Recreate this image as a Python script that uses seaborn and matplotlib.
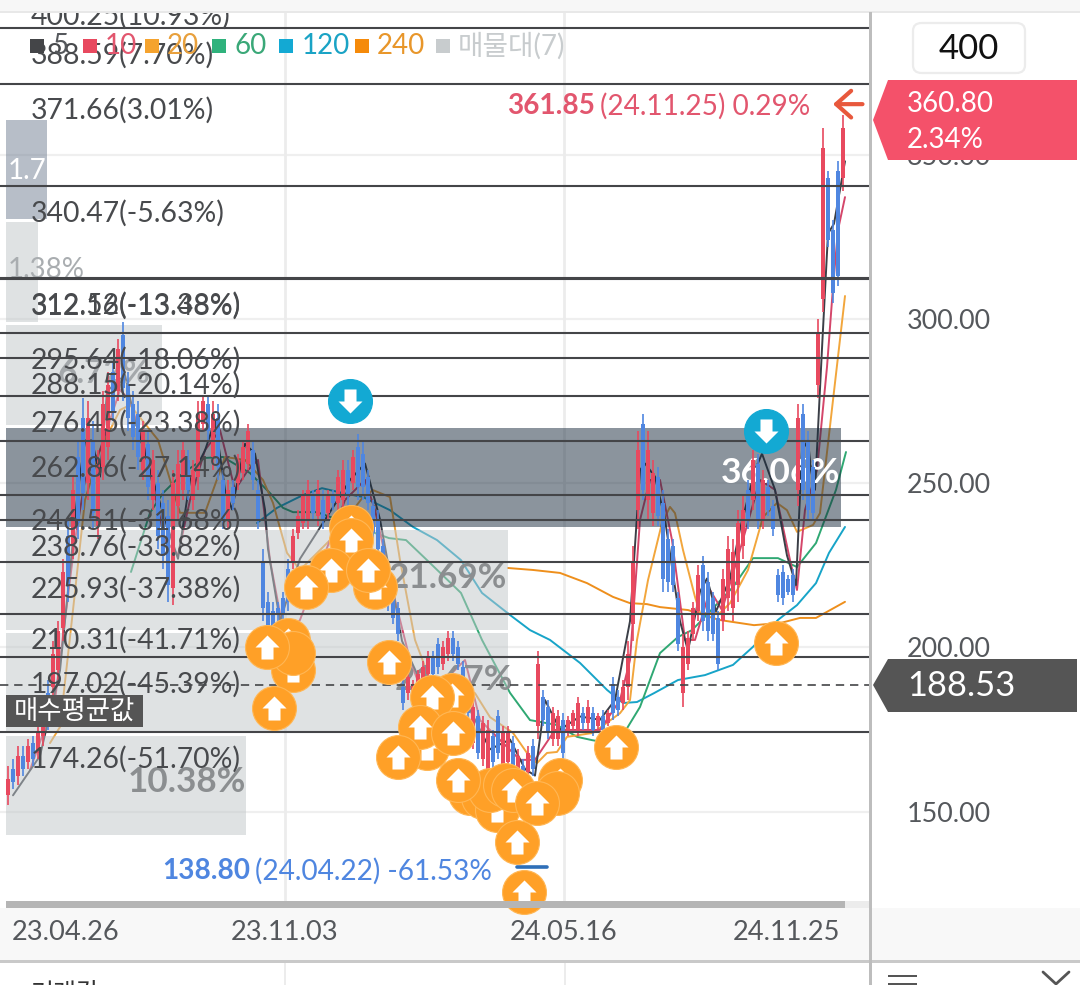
import numpy as np
import pandas as pd
import seaborn as sns
import matplotlib
matplotlib.use("Agg")
import matplotlib.pyplot as plt
from matplotlib.patches import Rectangle, Polygon, FancyBboxPatch
from matplotlib.path import Path

sns.set_theme(style="white")
plt.rcParams['font.family'] = ['Lato', 'Noto Sans CJK KR', 'DejaVu Sans']

# ---- candles -------------------------------------------------------------
highs = [164,166,170,170,172,173,176,184,190,202,208,227,239,252,263,276,275,269,260,278,284,287,294,299,284,278,275,269,266,260,254,248,245,254,260,263,260,257,275,277,277,275,274,254,251,251,259,263,268,263,251,230,217,214,214,217,227,236,242,248,251,248,251,248,248,248,254,257,257,260,265,263,254,245,242,233,224,217,214,190,193,190,193,196,199,199,203,202,205,205,202,196,187,184,181,179,178,175,181,176,176,173,169,166,170,172,199,187,184,182,181,180,179,181,185,182,184,182,180,181,181,191,187,190,202,231,266,271,266,257,255,248,236,233,217,204,205,214,225,228,223,217,211,224,234,233,242,246,251,260,259,254,251,245,224,225,222,224,274,274,266,257,300,358,345,330,348,362]
lows = [152,157,158,161,163,164,166,170,175,184,190,202,214,227,233,242,245,236,233,251,257,269,275,275,266,260,254,251,245,242,230,224,214,213,239,245,245,242,248,266,263,254,251,236,236,242,248,251,254,248,236,208,202,199,208,208,211,224,233,236,236,239,237,236,239,242,242,242,243,248,245,245,242,233,227,221,211,207,202,181,184,184,187,187,190,190,192,193,196,196,193,184,178,169,166,164,160,163,166,161,163,160,157,157,160,161,172,176,172,170,170,166,173,175,173,175,175,173,175,173,176,178,179,181,184,202,236,245,239,237,237,217,217,217,199,182,193,202,208,205,202,202,193,205,211,208,214,227,236,242,236,236,240,234,214,213,216,214,243,245,239,239,276,302,322,305,310,339]
opens = [155,163,161,167,165,171,168,173,186,188,193,206,234,231,258,270,250,263,237,255,261,284,278,295,280,274,271,254,262,245,250,244,240,218,243,248,257,245,252,268,274,258,270,251,239,249,250,253,256,260,248,226,214,211,212,215,224,226,235,238,239,246,240,245,241,246,244,245,254,250,261,259,252,243,239,231,221,215,212,188,186,185,188,189,192,197,201,195,198,203,200,194,185,171,179,166,163,173,179,163,165,171,159,164,162,170,176,185,182,172,172,178,174,176,175,180,177,180,176,179,177,189,185,183,188,207,242,268,245,241,252,244,233,231,215,186,195,204,211,225,220,215,209,208,215,212,219,231,248,245,256,239,249,243,222,223,221,222,248,271,263,255,280,306,343,327,345,343]
closes = [160,159,167,163,170,166,174,181,178,198,205,223,219,248,238,247,270,241,256,274,280,272,291,279,270,264,258,266,249,257,234,228,219,250,256,260,248,254,271,275,266,271,255,239,248,244,257,261,266,251,239,212,205,202,210,210,214,234,240,246,248,241,248,239,246,244,252,254,246,258,249,249,244,235,230,223,214,209,204,183,191,189,192,194,197,192,194,200,203,198,195,186,180,182,168,177,175,165,168,174,174,162,167,159,168,163,195,178,174,180,179,168,178,180,183,177,182,175,179,175,180,180,181,188,198,226,260,248,260,253,240,221,220,219,201,200,203,212,222,208,205,204,195,221,230,229,238,242,239,257,239,251,242,236,216,215,217,216,270,248,242,241,296,352,324,308,313,358]

# ---- moving averages ----------------------------------------------------
ma5_x = [1,6.4,10.4,14,15.4,16.8,18.4,19.8,23.4,25.4,28.4,31.4,34,36.4,39.4,41.4,43.4,44.8,47.4,49.4,51.4,52,54.4,58.4,66.4,68.4,71.4,74.4,77.4,78.8,82.4,87.4,92.4,96.4,100.4,103.4,105.4,107.4,110.4,114.4,118.4,121.4,124.4,126.4,127.4,129.4,131.4,134.4,136,138.4,139.8,141.6,144.4,146.4,149.4,150.8,153.4,155.8,157.6,158.8,160,160.6,161.4,162.8,164,165.2,167.4]
ma5_y = [155,167,193,248,263,263,252,278,283,269,254,239,227,251,260,269,248,242,262,259,242,230,208,227,246,251,256,239,214,202,190,190,181,169,172,163,161,184,175,179,178,184,208,254,256,252,239,208,199,217,221,211,221,236,254,259,248,228,219,260,263,254,248,291,326,329,348]
ma10_x = [4.4,9.4,11.4,13.4,15.4,18.4,22.4,24.4,27.4,31.4,34,36.4,39.4,42.4,45.4,48,50,52.4,55.4,58.4,67.4,71.4,73.4,77.4,80.4,83.4,91.4,94.4,102.4,105.4,109.4,118.4,122.4,124.4,126.4,128.4,130.4,132.8,135.4,137.4,140.4,142.8,146.4,150.4,153.4,156.4,157.8,159.4,161.8,163.8,165,166,167.4]
ma10_y = [162.7,184,208.4,232.7,251,260.1,278.4,275.3,260.1,232.7,228.2,244.9,260.1,266.2,248,254,257.1,226.6,202.3,208.4,244.9,251,241.9,214.5,196.2,184,196.2,177.9,165.8,165.8,174.9,174.9,184,196.2,238.8,251,251,232.7,202.3,202.3,217.5,211.4,229.7,251,248,226.6,217.5,241.9,254,285.4,309.7,327.1,337.1]
ma20_x = [8.4,10.4,13,15.4,18.4,22.4,24.4,30,34.4,39.4,43.4,47.4,51,53,55.8,58.4,64.4,71,73,76.4,78.4,81.4,84.4,93.4,96.4,101,103.8,105.8,107.8,109.8,111.8,117,122.4,124.4,125.8,128,130.8,132.4,133.4,135,137.4,138.4,142.4,144.4,148,151,153.8,155.8,157.8,161,162.4,165,167.4]
ma20_y = [170.9,175.8,211.4,244.9,260.1,272.3,273.8,263.2,241,241,258,257.1,251,244,228.8,223.6,232.7,245.8,247.9,245.8,226.6,202.3,190.1,186.1,178.8,174,167.9,164.8,167.9,168.2,172.8,174,180,184,202.3,220.5,237.9,242.8,240.9,229.7,215.4,210.5,210.5,213.5,223.6,239.7,244,241.8,235.2,237.3,240.9,275.3,307]
ma60_x = [24.6,28.4,31,35,39.4,43,48.4,52.4,55,57,61.8,76.2,79.6,83.8,90.6,94.8,100.4,104.4,109.8,113.8,116.8,122.4,123.6,126.4,130.4,134,136.8,138.8,145,149,154,157.8,161.6,165.6,167.6]
ma60_y = [223,241,247,253.1,257.7,258,253.1,247,242.5,241.2,241.2,233.3,232.7,226.6,216.6,202.3,186.2,177.9,176.4,172.8,171.8,170.3,174.9,181.9,198.3,203.2,205.3,208.4,218.4,227.2,227.2,224.5,231.8,248,259.5]
ma120_x = [49.8,53.8,59,62.8,67,71,76.4,81,85.8,90.6,94.8,100.4,104.4,108.4,114.4,119.8,123,125.8,129.2,134,139.4,145,149,154,157.8,161.6,164.2,167.4]
ma120_y = [237.9,242.5,246.4,248.5,247,245.8,241.8,236.7,232.7,226.6,216.6,209.9,205.3,202.3,195.3,187.1,183.1,183.4,186.1,190.1,191.6,194.7,200.2,208.4,212.9,219.6,228.8,236.7]
ma240_x = [100,105,110.4,115.8,121,124.4,127.8,130.4,136,142.2,149.2,154.6,158.4,161.6,167.4]
ma240_y = [224.2,223.6,222.7,219.6,215.4,213.5,213.2,212.3,211.4,208.4,206.8,207.5,209,209,213.9]

# ---- volume profile -----------------------------------------------------
profile_pct = [1.77, 1.38, 6.72, 36.06, 21.69, 21.67, 10.38]
profile_top = [360.6, 329.5, 298.2, 266.8, 235.8, 204.4, 173.1]
profile_bot = [330.4, 299.1, 267.7, 236.7, 205.3, 174.0, 142.9]

# ---- retracement levels --------------------------------------------------
fib_prices = [400.25, 388.59, 371.66, 340.47, 312.16, 312.52, 295.64, 288.15, 276.45, 262.86, 246.51, 238.76, 225.93, 210.31, 197.02, 174.26]
fib_pcts = ["10.93", "7.70", "3.01", "-5.63", "-13.48", "-13.38", "-18.06", "-20.14", "-23.38", "-27.14", "-31.68", "-33.82", "-37.38", "-41.71", "-45.39", "-51.70"]

# ---- signals (in drawing order; buy_arrow says whether the arrow is shown) --
buy_x = [73.4,68.6,68.6,64.6,72,59.6,56,57,57,51.8,53.2,76.2,88.8,84.8,83.8,82.4,89,78,92.4,95,97.8,96.4,99.4,90,110.4,109.8,101,105.8,101.8,103.2,121.6,153.6]
buy_y = [218.4,236.7,232.7,223.6,223.6,218.4,202.3,193.2,198.3,200.2,181.6,195.6,185.5,184.9,169.4,175.8,174,166.7,155.7,154.5,150.5,156.6,158.1,159.7,159.7,155.7,156.6,152.7,140.8,125.6,169.7,201.4]
buy_arrow = [1,1,1,1,1,1,1,1,0,1,1,1,1,1,1,1,1,1,1,0,1,0,0,1,1,0,1,1,1,1,1,1]
sell_x = [68.4, 151.6]
sell_y = [275.0, 265.9]

# ---- axis labels -----------------------------------------------------------
date_ticks = [11.6, 55.4, 111.2, 155.6]
date_labels = ["23.04.26", "23.11.03", "24.05.16", "24.11.25"]
grid_dates = [55.4, 111.2]
price_ticks = [150, 200, 250, 300, 350]
avg_price = 188.53
last_price = 360.80
legend_names = ["5", "10", "20", "60", "120", "240", "매물대(7)"]

W, H = 1080, 985
fig = plt.figure(figsize=(W / 100, H / 100), dpi=100, facecolor="white")
ax = fig.add_axes([0, 1 - 908 / H, 870 / W, (908 - 12) / H])
ax.set_xlim(-1.6, 172.4)
ax.set_ylim(120.7, 393.45)
for s in ax.spines.values():
    s.set_visible(False)

RED, BLUE = "#e8495f", "#4f86e0"
TXT = "#484a4d"
FS = 20

# grid
for p in price_ticks:
    ax.axhline(p, color="#efefef", lw=1.6, zorder=0.5)
for d in grid_dates:
    ax.axvline(d, color="#ececec", lw=2, zorder=0.5)

# moving averages (under the translucent profile bars)
ma_sets = [(ma240_x, ma240_y, "#ee8f1c"), (ma120_x, ma120_y, "#17a4c8"), (ma60_x, ma60_y, "#2fa873"),
           (ma20_x, ma20_y, "#f2a63c"), (ma10_x, ma10_y, "#d4466a"), (ma5_x, ma5_y, "#3b3f47")]
for mx, my, c in ma_sets:
    sns.lineplot(data=pd.DataFrame({"x": mx, "y": my}), x="x", y="y", color=c, lw=1.4,
                 estimator=None, sort=False, ax=ax, zorder=1, legend=False)
ax.set_xlabel("")
ax.set_ylabel("")

# volume profile
prof_colors = ["#717f93", "#c1c7c9", "#c1c7c9", "#192b3d", "#c1c7c9", "#c1c7c9", "#c1c7c9"]
prof_bars = []
for pct, top, bot, c in zip(profile_pct, profile_top, profile_bot, prof_colors):
    b = ax.barh((top + bot) / 2, pct * 4.63, height=top - bot, left=-0.4, color=c, alpha=0.5,
                lw=0, zorder=1.5)
    prof_bars.append(b[0])

# profile labels
t = ax.text(0, 345.0, f"{profile_pct[0]}%", color="white", fontsize=FS, va="center", zorder=1.7)
t.set_clip_path(prof_bars[0])
ax.text(0, 314.8, f"{profile_pct[1]}%", color="#a9adb0", fontsize=FS, va="center", zorder=1.7)
ax.text(10, 283.3, f"{profile_pct[2]}%", color="#a4a8ab", fontsize=24, weight="bold", va="center", zorder=1.7)
ax.text(166.4, 253.1, f"{profile_pct[3]}%", color="white", fontsize=25.5, weight="bold", va="center", ha="right", zorder=1.7)
ax.text(99.8, 221.3, f"{profile_pct[4]}%", color="#8b8e90", fontsize=25.2, weight="bold", va="center", ha="right", zorder=1.7)
ax.text(101.0, 190.0, f"{profile_pct[5]}%", color="#8b8e90", fontsize=25.2, weight="bold", va="center", ha="right", zorder=1.7)
ax.text(47.6, 159.2, f"{profile_pct[6]}%", color="#8b8e90", fontsize=25.2, weight="bold", va="center", ha="right", zorder=1.7)

# candles
xs = np.arange(len(highs))
cols = [RED if c >= o else BLUE for o, c in zip(opens, closes)]
ax.vlines(xs, lows, highs, colors=cols, lw=1.2, zorder=2)
ax.bar(xs, np.array(closes) - np.array(opens), bottom=opens, width=0.62, color=cols, lw=0, zorder=2)

# retracement lines and labels
for p, pct in zip(fib_prices, fib_pcts):
    ax.axhline(p, color="#444548", lw=1.5, zorder=3)
    ax.annotate(f"{p:.2f}({pct}%)", xy=(4.6, p), xytext=(0, -27), textcoords="offset pixels",
                color=TXT, fontsize=20.4, va="center", ha="left", zorder=3.2, annotation_clip=False,
                clip_on=True)

# average price
ax.axhline(avg_price, color="#444548", lw=1.2, ls=(0, (5, 3.5)), zorder=3)

# signal markers
up_arrow = Path([(-1, 0), (0, 1), (1, 0), (.5, 0), (.5, -1), (-.5, -1), (-.5, 0), (-1, 0)], closed=True)
down_arrow = Path([(-1, 0), (0, -1), (1, 0), (.5, 0), (.5, 1), (-.5, 1), (-.5, 0), (-1, 0)], closed=True)
z = 5.0
ax.plot([101.8, 107.8], [133.2, 133.2], color="#2f6fb8", lw=2.6, solid_capstyle="round", zorder=4.5)
for bx, by, show in zip(buy_x, buy_y, buy_arrow):
    sns.scatterplot(x=[bx], y=[by], s=1000, color="#ffa027", edgecolor="#ffb755", linewidth=0.8, ax=ax,
                    zorder=z, legend=False, clip_on=False)
    z += 0.01
    if show:
        ax.scatter([bx], [by], s=300, marker=up_arrow, color="white", lw=0, zorder=z, clip_on=False)
    z += 0.01
for sx, sy in zip(sell_x, sell_y):
    sns.scatterplot(x=[sx], y=[sy], s=1000, color="#13a9d3", edgecolor="#13a9d3", linewidth=0.8, ax=ax, zorder=z, legend=False)
    z += 0.01
    ax.scatter([sx], [sy], s=300, marker=down_arrow, color="white", lw=0, zorder=z)
    z += 0.01

# high arrow
ax.annotate("", xy=(165.0, 365.4), xytext=(170.9, 365.4),
            arrowprops=dict(arrowstyle="->,head_width=0.4,head_length=0.45", color="#e8583c", lw=3,
                            mutation_scale=24, shrinkA=0, shrinkB=0), zorder=5)


def ftext(x, y, s, **kw):
    kw.setdefault("va", "center")
    kw.setdefault("zorder", 8)
    return fig.text(x / W, 1 - y / H, s, **kw)


def frect(x0, y0, x1, y1, color, zorder=4, **kw):
    r = Rectangle((x0 / W, 1 - y1 / H), (x1 - x0) / W, (y1 - y0) / H, transform=fig.transFigure,
                  facecolor=color, edgecolor="none", zorder=zorder, **kw)
    fig.add_artist(r)
    return r


def fpoly(pts, color, zorder=6):
    fig.add_artist(Polygon([(x / W, 1 - y / H) for x, y in pts], closed=True, transform=fig.transFigure,
                           facecolor=color, edgecolor="none", zorder=zorder))


ftext(507, 106, "361.85", color="#e2566e", fontsize=20.2, weight="bold")
ftext(600, 106, "(24.11.25) 0.29%", color="#e2566e", fontsize=20.2)
ftext(162, 871, "138.80", color=BLUE, fontsize=20.2, weight="bold")
ftext(255, 871, "(24.04.22) -61.53%", color=BLUE, fontsize=20.2)

# legend
leg_sq = [30, 83, 145, 212, 279, 355, 436]
leg_txt = [52, 105, 167, 234, 302, 377, 458]
leg_col = ["#444548", "#e8495f", "#f5a32e", "#2fb27c", "#13a9d3", "#f58a0a", "#c8ccce"]
leg_tc = ["#55585c", "#e2566e", "#e8a03c", "#3aa878", "#1aa3c5", "#e8962a", "#c8ccce"]
for sq, tx, c, tc, n in zip(leg_sq, leg_txt, leg_col, leg_tc, legend_names):
    frect(sq, 39, sq + 14, 53, c, zorder=7)
    ftext(tx, 46, n, color=tc, fontsize=FS, zorder=7)

# axis ticks
ax.set_xticks(date_ticks)
ax.set_xticklabels(date_labels)
ax.yaxis.tick_right()
ax.set_yticks(price_ticks)
ax.set_yticklabels([f"{p:.2f}" for p in price_ticks])
ax.tick_params(axis="x", length=0, pad=9, labelsize=19.6, labelcolor="#55585c")
ax.tick_params(axis="y", length=0, pad=26.5, labelsize=19.4, labelcolor="#55585c")
ax.set_xlim(-1.6, 172.4)
ax.set_ylim(120.7, 393.45)

# chrome
frect(0, 0, W, 11, "#f7f7f7", zorder=4)
frect(0, 11, W, 13, "#e8e8e8", zorder=4)
frect(0, 908, 870, 960, "#f8f8f8", zorder=-1)
frect(870, 908, W, 960, "#f8f8f8", zorder=-1)
frect(6, 901, 845, 908, "#b5b5b5", zorder=2)
frect(845, 901, 870, 908, "#ececec", zorder=2)
frect(0, 960, W, 963, "#c9c9c9", zorder=4)
frect(869, 12, 872, H, "#bdbdbd", zorder=4)
for gx in (285, 565):
    frect(gx - 1, 963, gx + 1, H, "#ececec", zorder=2)

# 400 box
fig.add_artist(FancyBboxPatch((913 / W, 1 - 73 / H), 112 / W, 50 / H, boxstyle="round,pad=0,rounding_size=0.008",
                              transform=fig.transFigure, facecolor="white", edgecolor="#ececec", lw=1.6,
                              zorder=4, mutation_aspect=1))
ftext(969, 49, "400", color="#111111", fontsize=25, ha="center")

# price tags
fpoly([(873, 120), (888, 80), (1077, 80), (1077, 160), (888, 160)], "#f4516a")
ftext(907, 104, f"{last_price:.2f}", color="white", fontsize=FS)
ftext(907, 140, "2.34%", color="white", fontsize=FS)
fpoly([(873, 685), (888, 659), (1077, 659), (1077, 712), (888, 712)], "#555555")
ftext(907, 686, f"{avg_price:.2f}", color="white", fontsize=24.8)
frect(6, 695, 143, 727, "#555555", zorder=6)
ftext(74, 711, "매수평균값", color="white", fontsize=19, ha="center")

# bottom stub
ftext(31, 993, "거래값", color="#333333", fontsize=18, zorder=8)
frect(888, 975, 917, 977, "#555555", zorder=5)
frect(888, 983, 917, 985, "#555555", zorder=5)
fig.add_artist(plt.Line2D([1043 / W, 1056 / W, 1069 / W], [1 - 972 / H, 1 - 984 / H, 1 - 972 / H],
                          transform=fig.transFigure, color="#555555", lw=2, zorder=5))

fig.savefig("out.png", dpi=100, facecolor="white")
